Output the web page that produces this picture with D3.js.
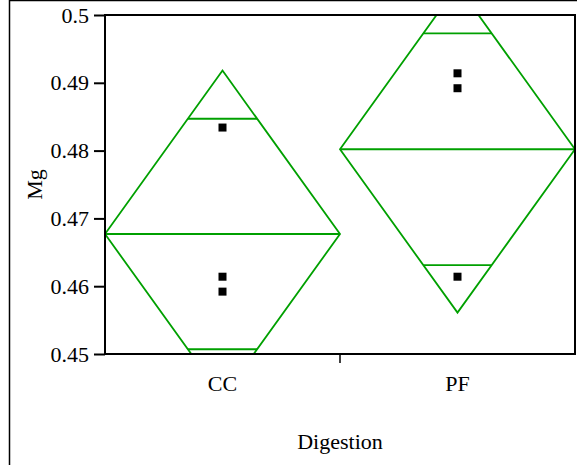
<!DOCTYPE html>
<html>
<head>
<meta charset="utf-8">
<script src="https://cdn.jsdelivr.net/npm/d3@7"></script>
<style>
  body { margin: 0; background: #fff; }
  svg text { fill: #000; }
</style>
</head>
<body>
<svg id="chart" width="577" height="465"></svg>
<script>
// data
var groups      = ["CC", "PF"];
var means       = [0.4677, 0.4802];
var ciHalf      = [0.0241, 0.0241];   // half height of each diamond
var overlapHalf = [0.0170, 0.0171];   // overlap marks, +/- from the mean
var ccPoints    = [0.4834, 0.4614, 0.4592];
var pfPoints    = [0.4914, 0.4892, 0.4614];
var yTicks      = [0.45, 0.46, 0.47, 0.48, 0.49, 0.5];

var points = { CC: ccPoints, PF: pfPoints };

var svg = d3.select("#chart");
var plotL = 105, plotR = 575, plotT = 15, plotB = 354;
var green = "#00a000";
var serif = "'Liberation Serif', 'Times New Roman', serif";
var fontSize = 22;

var x = d3.scaleBand().domain(groups).range([plotL, plotR]);
var y = d3.scaleLinear().domain([0.45, 0.5]).range([plotB, plotT]);

// outer frame
svg.append("rect")
   .attr("x", 9.5).attr("y", 0.5)
   .attr("width", 700).attr("height", 700)
   .attr("fill", "none").attr("stroke", "#000").attr("stroke-width", 1.5);

svg.append("defs").append("clipPath").attr("id", "plot-clip")
   .append("rect")
   .attr("x", plotL).attr("y", plotT)
   .attr("width", plotR - plotL).attr("height", plotB - plotT);

var plot = svg.append("g").attr("clip-path", "url(#plot-clip)");

// diamonds
groups.forEach(function(g, i) {
    var x0 = x(g), x1 = x(g) + x.bandwidth(), xc = x(g) + x.bandwidth() / 2;
    var m = means[i], c = ciHalf[i], o = overlapHalf[i];
    var half = x.bandwidth() / 2;
    var pts = [[x0, y(m)], [xc, y(m + c)], [x1, y(m)], [xc, y(m - c)]];
    plot.append("polygon")
        .attr("points", pts.map(function(p) { return p.join(","); }).join(" "))
        .attr("fill", "none").attr("stroke", green).attr("stroke-width", 1.8);
    plot.append("line")
        .attr("x1", x0).attr("x2", x1).attr("y1", y(m)).attr("y2", y(m))
        .attr("stroke", green).attr("stroke-width", 1.8);
    [m + o, m - o].forEach(function(v) {
        var w = half * (1 - o / c);
        plot.append("line")
            .attr("x1", xc - w).attr("x2", xc + w).attr("y1", y(v)).attr("y2", y(v))
            .attr("stroke", green).attr("stroke-width", 1.8);
    });
    plot.selectAll(null)
        .data(points[g])
        .enter().append("rect")
        .attr("x", xc - 4).attr("y", function(d) { return y(d) - 4; })
        .attr("width", 8).attr("height", 8)
        .attr("fill", "#000");
});

// plot frame
svg.append("rect")
   .attr("x", plotL).attr("y", plotT)
   .attr("width", plotR - plotL).attr("height", plotB - plotT)
   .attr("fill", "none").attr("stroke", "#000").attr("stroke-width", 2);

// y axis
var yAxis = svg.append("g")
   .attr("transform", "translate(" + plotL + ",0)")
   .call(d3.axisLeft(y).tickValues(yTicks).tickFormat(String).tickSize(11).tickSizeOuter(0).tickPadding(5));
yAxis.attr("font-family", serif).attr("font-size", fontSize);
yAxis.select(".domain").remove();
yAxis.selectAll("line").attr("stroke", "#000").attr("stroke-width", 2);

// x axis labels and separator tick
var xAxis = svg.append("g")
   .attr("transform", "translate(0," + plotB + ")")
   .call(d3.axisBottom(x).tickSize(0).tickPadding(21));
xAxis.attr("font-family", serif).attr("font-size", fontSize);
xAxis.select(".domain").remove();
svg.append("line")
   .attr("x1", x("PF")).attr("x2", x("PF"))
   .attr("y1", plotB).attr("y2", plotB + 9)
   .attr("stroke", "#000").attr("stroke-width", 1.5);

// titles
svg.append("text")
   .attr("transform", "translate(42," + (plotT + plotB) / 2 + ") rotate(-90)")
   .attr("text-anchor", "middle")
   .attr("font-family", serif).attr("font-size", fontSize)
   .text("Mg");
svg.append("text")
   .attr("x", (plotL + plotR) / 2).attr("y", 449)
   .attr("text-anchor", "middle")
   .attr("font-family", serif).attr("font-size", fontSize)
   .text("Digestion");
</script>
</body>
</html>
